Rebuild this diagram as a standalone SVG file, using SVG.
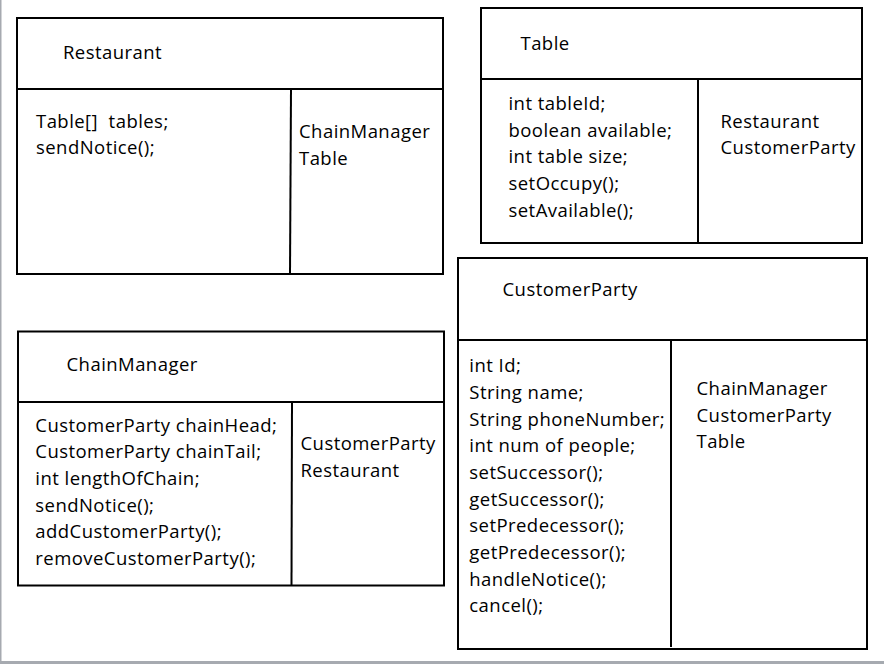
<svg xmlns="http://www.w3.org/2000/svg" width="884" height="664" viewBox="0 0 884 664">
<style>
.box{fill:#ffffff;stroke:#000000;stroke-width:2}
.ln{stroke:#000000;stroke-width:2;fill:none}
text{font-family:"Open Sans","Liberation Sans",sans-serif;font-size:18.5px;letter-spacing:0.45px;fill:#000000}
</style>
<rect x="0" y="0" width="884" height="664" fill="#ffffff"/>
<rect x="0" y="0" width="1.5" height="664" fill="#a6aab0"/>
<rect x="0" y="661" width="884" height="3" fill="#a6aab0"/>
<g id="restaurant">
<rect class="box" x="17" y="18" width="426" height="256"/>
<line class="ln" x1="17" y1="89" x2="443" y2="89"/>
<line class="ln" x1="291" y1="89" x2="290" y2="274"/>
<text x="63" y="59">Restaurant</text>
<text x="36" y="127.5" xml:space="preserve">Table[]  tables;</text>
<text x="36" y="154.2">sendNotice();</text>
<text x="299" y="137.7">ChainManager</text>
<text x="299" y="164.5">Table</text>
</g>
<g id="table">
<rect class="box" x="481" y="8" width="381" height="235"/>
<line class="ln" x1="481" y1="79" x2="862" y2="79"/>
<line class="ln" x1="698" y1="79" x2="698" y2="243"/>
<text x="520.5" y="50">Table</text>
<text x="508.5" y="110">int tableId;</text>
<text x="508.5" y="136.7">boolean available;</text>
<text x="508.5" y="163.3">int table size;</text>
<text x="508.5" y="190">setOccupy();</text>
<text x="508.5" y="216.7">setAvailable();</text>
<text x="720.5" y="127.7">Restaurant</text>
<text x="720.5" y="154.3">CustomerParty</text>
</g>
<g id="customerparty">
<rect class="box" x="458" y="258" width="409" height="391"/>
<line class="ln" x1="458" y1="340" x2="867" y2="340"/>
<line class="ln" x1="671" y1="340" x2="671" y2="647"/>
<text x="502.5" y="296">CustomerParty</text>
<text x="469.3" y="372.3">int Id;</text>
<text x="469.3" y="399">String name;</text>
<text x="469.3" y="425.7">String phoneNumber;</text>
<text x="469.3" y="452.3">int num of people;</text>
<text x="469.3" y="479">setSuccessor();</text>
<text x="469.3" y="505.7">getSuccessor();</text>
<text x="469.3" y="532.3">setPredecessor();</text>
<text x="469.3" y="559">getPredecessor();</text>
<text x="469.3" y="585.7">handleNotice();</text>
<text x="469.3" y="612.3">cancel();</text>
<text x="696.5" y="395">ChainManager</text>
<text x="696.5" y="421.7">CustomerParty</text>
<text x="696.5" y="448.3">Table</text>
</g>
<g id="chainmanager">
<rect class="box" x="18" y="331.5" width="426" height="254"/>
<line class="ln" x1="18" y1="402" x2="444" y2="402"/>
<line class="ln" x1="292" y1="402" x2="291.5" y2="585.5"/>
<text x="66.5" y="370.7">ChainManager</text>
<text x="35.3" y="431.7">CustomerParty chainHead;</text>
<text x="35.3" y="458.3">CustomerParty chainTail;</text>
<text x="35.3" y="485">int lengthOfChain;</text>
<text x="35.3" y="511.7">sendNotice();</text>
<text x="35.3" y="538.3">addCustomerParty();</text>
<text x="35.3" y="565">removeCustomerParty();</text>
<text x="300.5" y="450">CustomerParty</text>
<text x="300.5" y="476.7">Restaurant</text>
</g>
<g id="connectors"/>
</svg>
